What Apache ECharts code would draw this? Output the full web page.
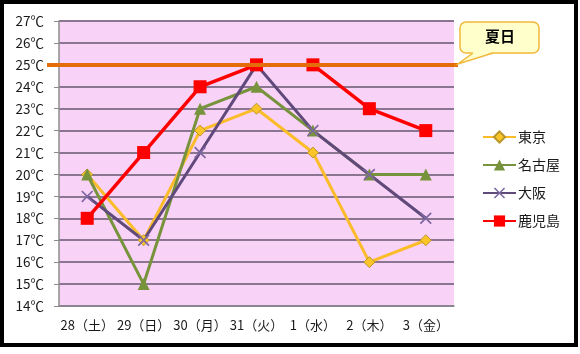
<!DOCTYPE html>
<html>
<head>
<meta charset="utf-8">
<script src="https://cdn.jsdelivr.net/npm/echarts@6/dist/echarts.min.js"></script>
<style>
  html, body { margin: 0; padding: 0; background: #fff; }
  #main { width: 580px; height: 354px; }
</style>
</head>
<body>
<div id="main"></div>
<script>
// 日付
var days = ['28（土）', '29（日）', '30（月）', '31（火）', '1（水）', '2（木）', '3（金）'];
// 最高気温
var tokyo = [20, 17, 22, 23, 21, 16, 17];
var nagoya = [20, 15, 23, 24, 22, 20, 20];
var osaka = [19, 17, 21, 25, 22, 20, 18];
var kagoshima = [18, 21, 24, 25, 25, 23, 22];
// 夏日ライン
var natsubi = 25;

var font = 'Noto Sans CJK JP';
var crossPath = 'path://M0,1L1,0L5,4L9,0L10,1L6,5L10,9L9,10L5,6L1,10L0,9L4,5Z';

var myChart = echarts.init(document.getElementById('main'));

var option = {
    animation: false,
    textStyle: { fontFamily: font, color: '#1a1a1a' },
    grid: { left: 59, top: 21, right: 126, bottom: 48, show: true, backgroundColor: '#f9d2f7', borderWidth: 0 },
    legend: {
        orient: 'vertical',
        left: 477,
        top: 125,
        itemWidth: 33,
        itemHeight: 14,
        itemGap: 14,
        textStyle: { fontSize: 14, color: '#1a1a1a', fontFamily: font, padding: [0, 0, 0, -3] },
        data: ['東京', '名古屋', '大阪', '鹿児島']
    },
    xAxis: {
        type: 'category',
        data: days,
        axisLine: { lineStyle: { color: '#8c8c8c', width: 1.5 } },
        axisTick: { length: 5, lineStyle: { color: '#8c8c8c' } },
        axisLabel: { fontSize: 13, margin: 13, color: '#1a1a1a', interval: 0 }
    },
    yAxis: {
        type: 'value',
        min: 14,
        max: 27,
        interval: 1,
        axisLine: { show: true, lineStyle: { color: '#8c8c8c', width: 1.5 } },
        axisTick: { show: true, length: 5, lineStyle: { color: '#8c8c8c' } },
        axisLabel: { fontSize: 13.5, margin: 15, color: '#1a1a1a', formatter: '{value}℃' },
        splitLine: { lineStyle: { color: '#8a7690', width: 1.8 } }
    },
    series: [
        {
            name: '東京', type: 'line', data: tokyo,
            symbol: 'diamond', symbolSize: 11,
            lineStyle: { color: '#fbbc2a', width: 3 },
            itemStyle: { color: '#fbc52a', borderColor: '#b8962a', borderWidth: 1 }
        },
        {
            name: '名古屋', type: 'line', data: nagoya,
            symbol: 'triangle', symbolSize: 12,
            lineStyle: { color: '#77933c', width: 3 },
            itemStyle: { color: '#77933c' }
        },
        {
            name: '大阪', type: 'line', data: osaka,
            symbol: crossPath, symbolSize: 12,
            lineStyle: { color: '#604a7b', width: 3 },
            itemStyle: { color: '#7d67a0' }
        },
        {
            name: '鹿児島', type: 'line', data: kagoshima,
            symbol: 'rect', symbolSize: 13,
            lineStyle: { color: '#ff0000', width: 3.5 },
            itemStyle: { color: '#ff0000' },
            markLine: {
                silent: true,
                symbol: 'none',
                label: { show: false },
                lineStyle: { color: '#e46c0a', width: 4, type: 'solid' },
                data: [[
                    { xAxis: 0, yAxis: natsubi, x: 47 },
                    { xAxis: 6, yAxis: natsubi, x: 458 }
                ]]
            }
        }
    ],
    graphic: [
        {
            type: 'rect',
            shape: { x: 2, y: 2, width: 574, height: 343 },
            style: { fill: 'none', stroke: '#000', lineWidth: 4 },
            z: 100
        },
        {
            type: 'rect',
            shape: { x: 460, y: 22, width: 79, height: 31, r: 6 },
            style: { fill: '#ffffcc', stroke: '#f2b83a', lineWidth: 1.5 },
            z: 100
        },
        {
            type: 'polygon',
            shape: { points: [[473, 52], [458, 64], [493, 52]] },
            style: { fill: '#ffffcc' },
            z: 101
        },
        {
            type: 'polyline',
            shape: { points: [[473, 53], [458, 64], [493, 53]] },
            style: { fill: null, stroke: '#f2b83a', lineWidth: 1.5 },
            z: 101
        },
        {
            type: 'text',
            left: 485,
            top: 29,
            style: { text: '夏日', font: 'bold 15px "Noto Sans CJK JP"', fill: '#000' },
            z: 102
        }
    ]
};

myChart.setOption(option);
</script>
</body>
</html>
